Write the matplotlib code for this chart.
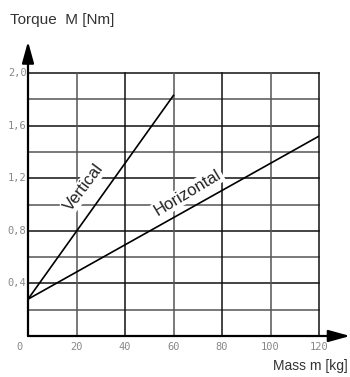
"""
Torque vs. mass chart (vertical / horizontal mounting)
"""

import matplotlib
matplotlib.use('Agg')
import matplotlib.pyplot as plt

# ── Data ────────────────────────────────────────────────────────
mass_vertical = [0, 60]
torque_vertical = [0.28, 1.83]
mass_horizontal = [0, 120]
torque_horizontal = [0.28, 1.52]

x_ticks = [0, 20, 40, 60, 80, 100, 120]
y_ticks = [0.4, 0.8, 1.2, 1.6, 2.0]
y_tick_labels = ['0,4', '0,8', '1,2', '1,6', '2,0']
y_grid = [0.2, 0.4, 0.6, 0.8, 1.0, 1.2, 1.4, 1.6, 1.8, 2.0]

# ── Figure ──────────────────────────────────────────────────────
fig = plt.figure(figsize=(3.5, 3.77), dpi=100)
ax = fig.add_axes([28 / 350, 41 / 377, 291 / 350, 263 / 377])
ax.set_xlim(0, 120)
ax.set_ylim(0, 2.0)
for s in ax.spines.values():
    s.set_visible(False)
ax.set_xticks([])
ax.set_yticks([])

# grid
for y in y_grid:
    c = '#111111' if round(y * 10) % 4 == 0 else '#555555'
    ax.plot([0, 120], [y, y], color=c, linewidth=1.1, clip_on=False, zorder=1)
for x in x_ticks[1:]:
    c = '#111111' if x in (40, 80, 120) else '#555555'
    ax.plot([x, x], [0, 2.0], color=c, linewidth=1.1, clip_on=False, zorder=1)

# curves
ax.plot(mass_vertical, torque_vertical, color='black', linewidth=1.2, zorder=3)
ax.plot(mass_horizontal, torque_horizontal, color='black', linewidth=1.2, zorder=3)

ax.text(23.0, 1.13, 'Vertical', rotation=53, ha='center', va='center',
        fontsize=12, color='#222222', family='Liberation Sans', zorder=2,
        bbox=dict(facecolor='white', edgecolor='none', pad=1.0))
ax.text(66.0, 1.09, 'Horizontal', rotation=31, ha='center', va='center',
        fontsize=12, color='#222222', family='Liberation Sans', zorder=2,
        bbox=dict(facecolor='white', edgecolor='none', pad=1.0))

# axes arrows
arrow = dict(arrowstyle='-|>,head_length=1.3,head_width=0.36', color='black',
             linewidth=1.6, shrinkA=0, shrinkB=0, mutation_scale=10)
ax.annotate('', xy=(0, 2.24), xytext=(0, 0), arrowprops=arrow,
            annotation_clip=False, zorder=4)
ax.annotate('', xy=(132.8, 0), xytext=(0, 0), arrowprops=arrow,
            annotation_clip=False, zorder=4)

# tick labels
for x in x_ticks:
    xo = -3.7 if x == 0 else x
    ax.text(xo, -0.08, str(x), ha='center', va='center', fontsize=7.5,
            color='#888888', family='DejaVu Sans Mono')
for y, lab in zip(y_ticks, y_tick_labels):
    ax.text(-0.6, y, lab, ha='right', va='center', fontsize=7.5,
            color='#888888', family='DejaVu Sans Mono')

# axis titles
fig.text(10 / 350, 1 - 20 / 377, 'Torque  M [Nm]', ha='left', va='center',
         fontsize=11, color='#333333', family='Liberation Sans')
fig.text(348 / 350, 1 - 366 / 377, 'Mass m [kg]', ha='right', va='center',
         fontsize=10, color='#333333', family='Liberation Sans')

plt.savefig('out.png', dpi=100)
plt.close()
